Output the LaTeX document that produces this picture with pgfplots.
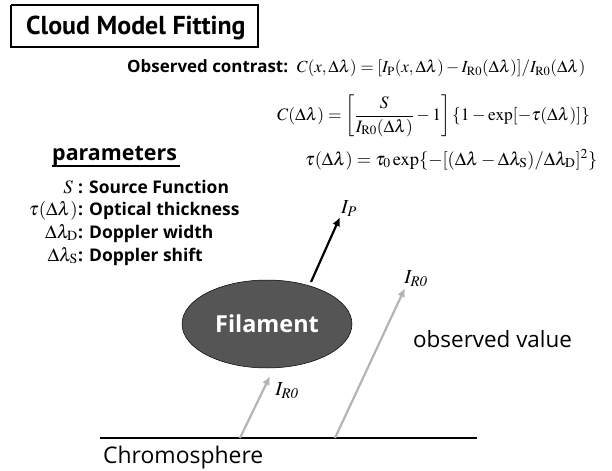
\documentclass[border=0pt]{standalone}
\usepackage{mathptmx}
\usepackage{pgfplots}
\pgfplotsset{compat=1.18}
\usetikzlibrary{arrows.meta}
\usepackage{fontspec}
\setmainfont{Open Sans}
\newfontfamily\titlefont{PT Sans}
\definecolor{fil}{HTML}{555555}
\definecolor{grayarrow}{HTML}{B4B4B4}
\begin{document}
\begin{tikzpicture}
\begin{axis}[
  width=612bp, height=471bp, scale only axis,
  xmin=0, xmax=612, ymin=0, ymax=471, y dir=reverse,
  hide axis, clip=false, enlargelimits=false]
\path (axis cs:0,0) rectangle (axis cs:612,471);
% title box
\addplot[black, line width=1.6pt] coordinates {(11,5) (258,5) (258,47) (11,47) (11,5)};
\node[anchor=base west, inner sep=0pt] at (axis cs:26,35) {\titlefont\fontsize{26}{30}\selectfont\bfseries Cloud Model Fitting};
% formulas
\node[anchor=base west, inner sep=0pt] at (axis cs:127,73) {\fontsize{17}{20}\selectfont\textbf{Observed contrast:}\ \ $C(x,\Delta\lambda)=[I_{\mathrm{P}}(x,\Delta\lambda)-I_{\mathrm{R0}}(\Delta\lambda)]/I_{\mathrm{R0}}(\Delta\lambda)$};
\node[anchor=west, inner sep=0pt] at (axis cs:277,116) {\fontsize{17.5}{20}\selectfont$\displaystyle C(\Delta\lambda)=\left[\frac{S}{I_{\mathrm{R0}}(\Delta\lambda)}-1\right]\{1-\exp[-\tau(\Delta\lambda)]\}$};
\node[anchor=base west, inner sep=0pt] at (axis cs:305,165) {\fontsize{18.5}{21}\selectfont$\tau(\Delta\lambda)=\tau_0\exp\{-[(\Delta\lambda-\Delta\lambda_{\mathrm{S}})/\Delta\lambda_{\mathrm{D}}]^2\}$};
% parameters
\node[anchor=base west, inner sep=0pt] at (axis cs:52,160) {\fontsize{21.5}{24}\selectfont\bfseries parameters};
\addplot[black, line width=1.3pt] coordinates {(52,166) (180,166)};
\node[anchor=base east, inner sep=0pt] at (axis cs:78,193) {\fontsize{19}{22}\selectfont$S$\ \ };
\node[anchor=base west, inner sep=0pt] at (axis cs:78,193) {\fontsize{17.5}{21}\selectfont\bfseries : Source Function};
\node[anchor=base east, inner sep=0pt] at (axis cs:78,215) {\fontsize{19}{22}\selectfont$\tau(\Delta\lambda)$};
\node[anchor=base west, inner sep=0pt] at (axis cs:78,215) {\fontsize{17.5}{21}\selectfont\bfseries: Optical thickness};
\node[anchor=base east, inner sep=0pt] at (axis cs:78,238) {\fontsize{19}{22}\selectfont$\Delta\lambda_{\mathrm{D}}$};
\node[anchor=base west, inner sep=0pt] at (axis cs:78,238) {\fontsize{17.5}{21}\selectfont\bfseries: Doppler width};
\node[anchor=base east, inner sep=0pt] at (axis cs:78,261) {\fontsize{19}{22}\selectfont$\Delta\lambda_{\mathrm{S}}$};
\node[anchor=base west, inner sep=0pt] at (axis cs:78,261) {\fontsize{17.5}{21}\selectfont\bfseries: Doppler shift};
% chromosphere
\addplot[black, line width=2.2pt] coordinates {(100,438) (477,438)};
\node[anchor=base west, inner sep=0pt] at (axis cs:103,463) {\fontsize{23}{27}\selectfont Chromosphere};
% arrows
\addplot[grayarrow, line width=2.2pt, -{Latex[length=9pt,width=8pt]}] coordinates {(240,438) (270,376)};
\addplot[grayarrow, line width=2.2pt, -{Latex[length=9pt,width=8pt]}] coordinates {(335,438) (405,288)};
\addplot[black, line width=2.2pt, -{Latex[length=9pt,width=8pt]}] coordinates {(311,282) (340,217)};
% filament
\draw[fill=fil, draw=black, line width=0.5pt] (axis cs:267,324) ellipse [x radius=85bp, y radius=44bp];
\node[text=white] at (axis cs:267,324) {\fontsize{23.5}{27}\selectfont\bfseries Filament};
% labels
\node at (axis cs:349,209) {\fontsize{20}{24}\selectfont$I_{P}$};
\node at (axis cs:416,279) {\fontsize{20}{24}\selectfont$I_{\mathit{R0}}$};
\node at (axis cs:287,391) {\fontsize{20}{24}\selectfont$I_{\mathit{R0}}$};
\node[anchor=base west, inner sep=0pt] at (axis cs:413,347) {\fontsize{22.5}{26}\selectfont observed value};
\end{axis}
\end{tikzpicture}
\end{document}
